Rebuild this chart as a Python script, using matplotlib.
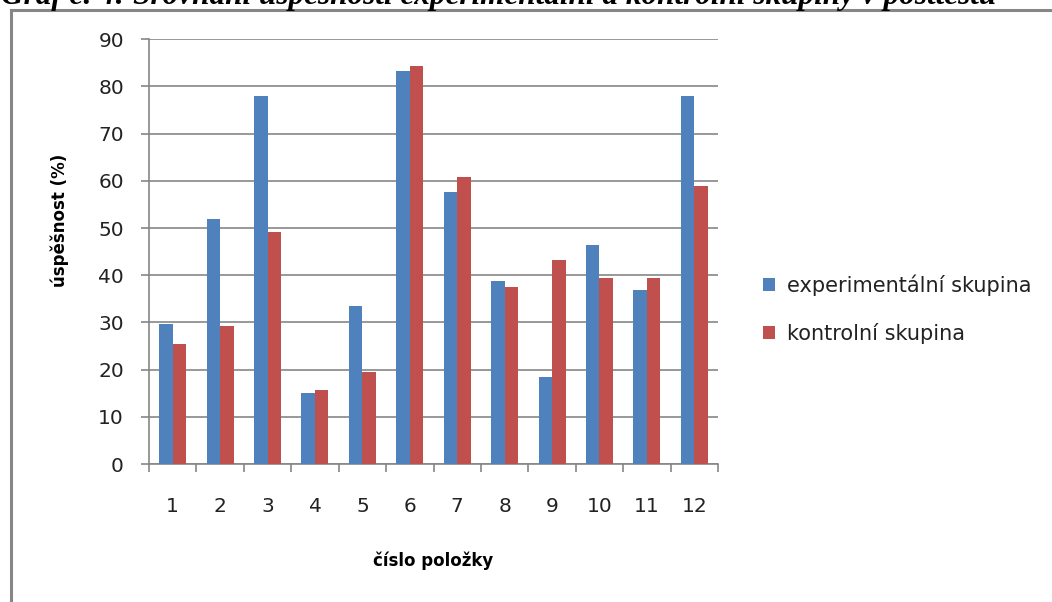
import numpy as np
import matplotlib.pyplot as plt
from matplotlib.lines import Line2D

# data
items = [str(i) for i in range(1, 13)]
experimental = [29.7, 51.9, 78.0, 15.0, 33.5, 83.3, 57.6, 38.8, 18.4, 46.4, 36.9, 78.0]
control = [25.4, 29.2, 49.2, 15.7, 19.5, 84.3, 60.8, 37.5, 43.2, 39.4, 39.4, 58.9]
series_names = ['experimentální skupina', 'kontrolní skupina']
title = 'Graf č. 4: Srovnání úspěšnosti experimentální a kontrolní skupiny v posttestu'

blue = '#4F81BD'
red = '#C0504D'
grey = '#868686'

plt.rcParams['font.family'] = ['DejaVu Sans']

W, H = 1052, 602
fig = plt.figure(figsize=(W / 100, H / 100), dpi=100)
ax = fig.add_axes([149 / W, 1 - 464 / H, (718 - 149) / W, (464 - 39.3) / H])

x = np.arange(len(items))
bw = 0.285
ax.bar(x - bw / 2, experimental, bw, color=blue, label=series_names[0], zorder=3)
ax.bar(x + bw / 2, control, bw, color=red, label=series_names[1], zorder=3)

ax.set_xlim(-0.5, len(items) - 0.5)
ax.set_ylim(0, 90)
ax.set_yticks(np.arange(0, 91, 10))
ax.yaxis.grid(True, color=grey, linewidth=1.2, zorder=0)
ax.set_axisbelow(True)

# ticks at category boundaries, labels centred under each group
ax.set_xticks(np.arange(-0.5, len(items), 1))
ax.set_xticklabels([])
ax.set_xticks(x, minor=True)
ax.set_xticklabels(items, minor=True)
ax.tick_params(axis='x', which='major', direction='out', length=6, color=grey, width=1.2)
ax.tick_params(axis='x', which='minor', length=0, pad=24, labelsize=14.5, labelcolor='#222222')
ax.tick_params(axis='y', direction='out', length=6, color=grey, width=1.2, pad=12,
               labelsize=14.5, labelcolor='#222222')

for side in ['top', 'right']:
    ax.spines[side].set_visible(False)
for side in ['left', 'bottom']:
    ax.spines[side].set_color(grey)
    ax.spines[side].set_linewidth(1.2)

ax.set_xlabel('číslo položky', fontsize=12, fontweight='bold')
ax.xaxis.set_label_coords(0.5, (464 - 561) / 424.7)
ax.xaxis.label.set_va('center')
ax.set_ylabel('úspěšnost (%)', fontsize=12, fontweight='bold')
ax.yaxis.set_label_coords((60 - 149) / 569, (464 - 220) / 424.7)
ax.yaxis.label.set_va('center')

leg = fig.legend(loc='center left', bbox_to_anchor=(744 / W, 1 - 309 / H),
                 frameon=False, fontsize=15, handlelength=0.6, handleheight=0.6,
                 handletextpad=0.55, labelspacing=1.3)
for t in leg.get_texts():
    t.set_color('#222222')

# outer chart border (only left and top visible in the crop)
fig.add_artist(Line2D([11 / W, 11 / W], [0, 1 - 10 / H], color=grey, linewidth=2.2,
                      transform=fig.transFigure))
fig.add_artist(Line2D([11 / W, 1], [1 - 10 / H, 1 - 10 / H], color=grey, linewidth=2.2,
                      transform=fig.transFigure))

# caption above the chart, cut off by the top edge as in the reference
fig.text(1 / W, 1 - 4 / H, title, family='Liberation Serif', style='italic',
         fontweight='bold', fontsize=22.5, va='baseline', ha='left')

fig.savefig('out.png', dpi=100)
